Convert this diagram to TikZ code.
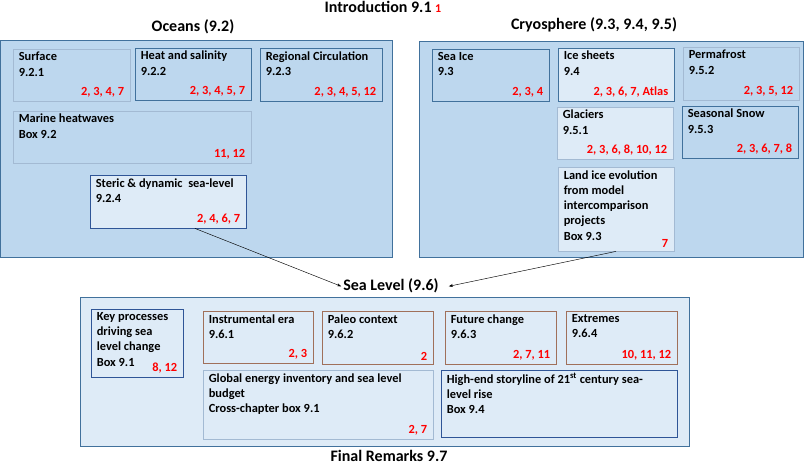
\documentclass[tikz,border=0pt]{standalone}
\usepackage{fontspec}
\setmainfont{Carlito}
\usetikzlibrary{arrows.meta,fit}
\definecolor{darkfill}{HTML}{BDD7EE}
\definecolor{lightfill}{HTML}{DEEBF7}
\definecolor{outerline}{HTML}{41719C}
\definecolor{paleline}{HTML}{A3BAD3}
\definecolor{deepline}{HTML}{2F5597}
\definecolor{brownline}{HTML}{A0705A}
\definecolor{refred}{HTML}{FF0000}

\tikzset{
  outerbox/.style={draw=outerline, line width=0.9pt, inner sep=0pt},
  secbox/.style 2 args={draw=#2, fill=#1, line width=0.8pt, inner sep=0pt},
  sectxt/.style={anchor=north west, align=left, inner xsep=6pt, inner ysep=3.5pt,
    font=\fontsize{12.4}{15.3}\selectfont\bfseries},
  secref/.style={anchor=south east, text=refred, inner xsep=6pt, inner ysep=4pt,
    font=\fontsize{12.4}{15.3}\selectfont\bfseries},
  headline/.style={anchor=base, font=\fontsize{16}{18}\selectfont\bfseries, inner sep=2pt},
}

% box from corner to corner, text top left, chapters bottom right
\newcommand{\secnode}[6]{%
  \node[#2, fit={(#3) (#4)}] (#1) {};
  \node[sectxt] at (#1.north west) {#5};
  \node[secref] at (#1.south east) {#6};
}

\begin{document}
\begin{tikzpicture}[x=1pt, y=-1pt]
  \useasboundingbox (0,0) rectangle (805,465);

  % outer panels
  \node[outerbox, fill=darkfill, fit={(0.5,40) (392,257)}] (oceanpanel) {};
  \node[outerbox, fill=darkfill, fit={(419,41) (803,257)}] (cryopanel) {};
  \node[outerbox, fill=lightfill, fit={(80,297) (689,446)}] (slpanel) {};

  % headings
  \node[headline] (intro) at (383,13) {Introduction 9.1 {\fontsize{12}{12}\selectfont\color{refred}1}};
  \node[headline] (oceans) at (193,32) {Oceans (9.2)};
  \node[headline] (cryo) at (594,30) {Cryosphere (9.3, 9.4, 9.5)};
  \node[headline] (sl) at (391,290) {Sea Level (9.6)};
  \node[headline, inner sep=0pt, text depth=0pt] (final) at (389,461) {Final Remarks 9.7};

  % oceans
  \secnode{surf}{secbox={darkfill}{paleline}}{13,49}{130,101}{Surface\\9.2.1}{2, 3, 4, 7}
  \secnode{heat}{secbox={darkfill}{outerline}}{135,48}{251,100}{Heat and salinity\\9.2.2}{2, 3, 4, 5, 7}
  \secnode{circ}{secbox={darkfill}{outerline}}{260,48}{382,101}{Regional Circulation\\9.2.3}{2, 3, 4, 5, 12}
  \secnode{mhw}{secbox={darkfill}{paleline}}{13,111}{251,163}{Marine heatwaves\\Box 9.2}{11, 12}
  \secnode{steric}{secbox={lightfill}{deepline}}{90,175}{246,228}{Steric \& dynamic\ \ sea-level\\9.2.4}{2, 4, 6, 7}

  % cryosphere
  \secnode{seaice}{secbox={darkfill}{outerline}}{432,49}{549,101}{Sea Ice\\9.3}{2, 3, 4}
  \secnode{icesh}{secbox={lightfill}{outerline}}{558,48}{674,101}{Ice sheets\\9.4}{2, 3, 6, 7, Atlas}
  \secnode{perma}{secbox={darkfill}{paleline}}{683,47}{799,100}{Permafrost\\9.5.2}{2, 3, 5, 12}
  \secnode{glac}{secbox={lightfill}{paleline}}{557,107}{673,159}{Glaciers\\9.5.1}{2, 3, 6, 8, 10, 12}
  \secnode{snow}{secbox={darkfill}{outerline}}{682,106}{798,158}{Seasonal Snow\\9.5.3}{2, 3, 6, 7, 8}
  \secnode{landice}{secbox={lightfill}{paleline}}{558,167}{674,251}{Land ice evolution\\from model\\intercomparison\\projects\\Box 9.3}{7}

  % sea level
  \secnode{keyproc}{secbox={lightfill}{deepline}}{91,309}{183,377}{Key processes\\driving sea\\level change\\Box 9.1}{8, 12}
  \secnode{instr}{secbox={lightfill}{brownline}}{203,311}{313,363}{Instrumental era\\9.6.1}{2, 3}
  \secnode{paleo}{secbox={lightfill}{brownline}}{322,311}{433,364}{Paleo context\\9.6.2}{2}
  \secnode{future}{secbox={lightfill}{brownline}}{445,311}{556,364}{Future change\\9.6.3}{2, 7, 11}
  \secnode{extr}{secbox={lightfill}{brownline}}{566,311}{677,364}{Extremes\\9.6.4}{10, 11, 12}
  \secnode{budget}{secbox={lightfill}{paleline}}{203,370}{433,439}{Global energy inventory and sea level\\budget\\Cross-chapter box 9.1}{2, 7}
  \secnode{highend}{secbox={lightfill}{deepline}}{441,370}{677,437}{High-end storyline of 21\textsuperscript{st} century sea-\\level rise\\Box 9.4}{}

  % links into sea level
  \draw[-{Stealth[length=4pt,width=3pt]}, line width=0.45pt] (steric.-45) -- ([yshift=-1pt]sl.west);
  \draw[-{Stealth[length=4pt,width=3pt]}, line width=0.45pt] (landice.south) -- ([xshift=8pt,yshift=-1pt]sl.east);
\end{tikzpicture}
\end{document}
